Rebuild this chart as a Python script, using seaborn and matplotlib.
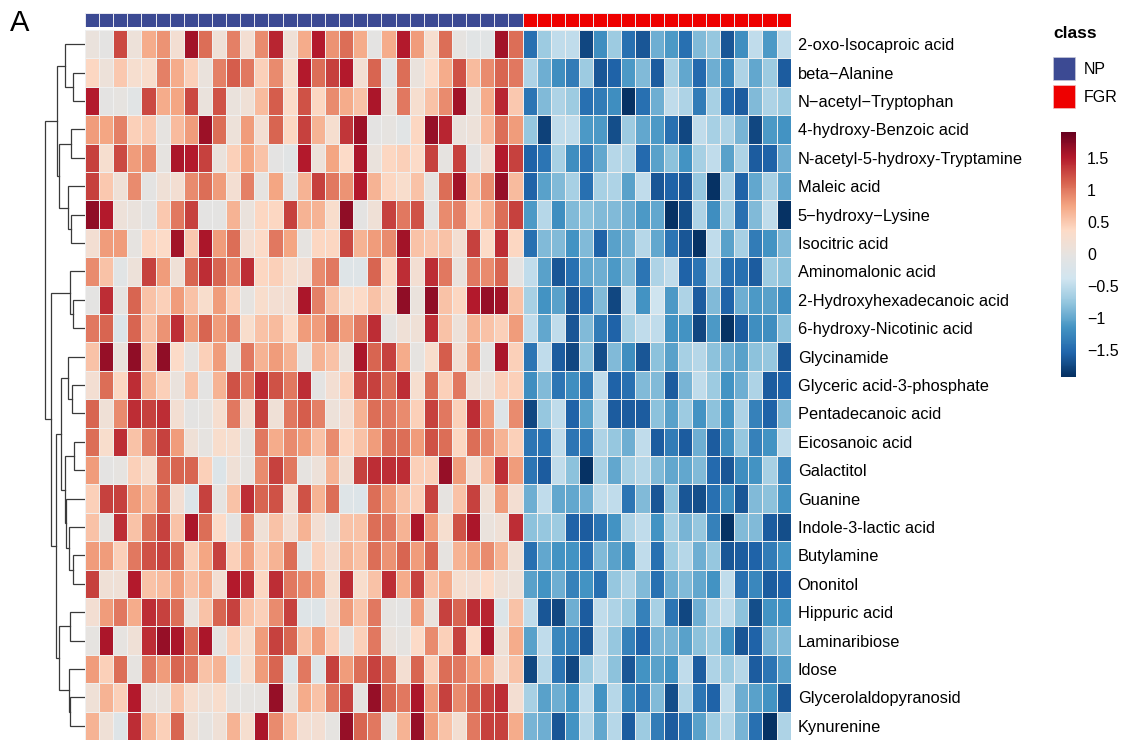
import numpy as np
import pandas as pd
import matplotlib
matplotlib.use("Agg")
import matplotlib.pyplot as plt
import seaborn as sns
from matplotlib.colors import LinearSegmentedColormap, ListedColormap
from matplotlib.patches import Patch

# ---------------- data ----------------
metabolites = [
    "2-oxo-Isocaproic acid", "beta\u2212Alanine", "N\u2212acetyl\u2212Tryptophan",
    "4-hydroxy-Benzoic acid", "N-acetyl-5-hydroxy-Tryptamine", "Maleic acid",
    "5\u2212hydroxy\u2212Lysine", "Isocitric acid", "Aminomalonic acid",
    "2-Hydroxyhexadecanoic acid", "6-hydroxy-Nicotinic acid", "Glycinamide",
    "Glyceric acid-3-phosphate", "Pentadecanoic acid", "Eicosanoic acid",
    "Galactitol", "Guanine", "Indole-3-lactic acid", "Butylamine", "Ononitol",
    "Hippuric acid", "Laminaribiose", "Idose", "Glycerolaldopyranosid", "Kynurenine",
]
n_np = 31
n_fgr = 19
class_names = ["NP", "FGR"]

r00 = [0.05,-0.05,1.25,0.1,0.7,0.85,0.2,1.6,1.05,0.15,0.95,0.2,0.9,1.45,0.15,0.7,1.5,0.85,1.05,0.7,-0.05,0.7,1.5,0.8,0.25,1.05,0.0,-0.1,-0.1,1.6,1.05,
       -1.45,-0.7,-0.5,-0.5,-1.75,-1.2,-0.7,-1.45,-1.65,-0.95,-1.1,-1.45,-0.85,-0.75,-1.65,-1.2,-0.5,-1.1,-0.5]
r01 = [0.4,0.1,0.5,0.25,0.3,0.95,0.7,0.45,0.05,0.95,1.15,1.0,0.45,0.9,0.3,1.5,1.05,1.3,1.5,0.2,1.1,-0.1,1.05,0.05,0.35,0.7,1.2,0.6,0.9,1.1,1.0,
       -0.6,-0.95,-1.2,-1.35,-0.7,-1.65,-1.55,-1.1,-0.85,-1.6,-0.65,-1.0,-1.5,-0.95,-1.25,-0.6,-1.0,-0.7,-1.6]
r02 = [1.5,-0.05,0.0,-0.1,1.25,0.7,0.75,1.25,0.05,1.2,0.05,0.15,0.6,1.15,0.35,1.2,0.4,0.9,0.7,0.55,1.55,0.05,1.0,0.25,0.55,0.9,1.6,0.05,0.7,1.45,0.5,
       -1.4,-0.85,-0.6,-0.7,-1.45,-1.35,-1.2,-1.9,-1.45,-0.95,-0.5,-0.6,-1.35,-0.65,-1.5,-1.6,-0.85,-0.6,-0.7]
r03 = [0.8,0.75,0.95,0.45,0.5,0.0,0.6,0.8,1.62,1.05,0.1,0.8,0.2,1.1,0.4,1.3,0.65,0.25,1.35,1.62,-0.05,0.0,-0.1,0.4,1.65,1.45,0.05,0.1,0.6,1.05,0.8,
       -0.75,-1.8,-0.5,-0.5,-1.1,-1.1,-1.7,-0.7,-1.0,-1.1,-1.45,-1.75,-0.5,-0.65,-0.6,-0.9,-1.75,-1.1,-1.15]
r04 = [1.3,0.25,1.25,0.8,0.9,0.0,1.55,1.5,1.3,0.05,0.45,0.75,0.55,-0.05,-0.1,1.5,0.1,0.75,0.35,1.55,0.05,0.4,0.45,0.35,1.3,0.0,1.3,-0.05,0.2,1.5,1.3,
       -1.55,-1.4,-0.65,-1.2,-1.4,-1.0,-0.55,-0.6,-1.5,-1.05,-0.8,-1.15,-0.65,-0.5,-1.05,-0.6,-1.6,-1.55,-0.95]
r05 = [1.3,0.5,0.15,0.9,-0.05,0.15,0.2,0.9,1.05,0.8,0.2,0.95,0.0,0.75,-0.05,0.65,1.3,1.0,0.85,1.5,0.65,0.4,0.3,0.55,0.0,1.05,1.6,0.55,0.9,1.65,0.6,
       -1.55,-1.05,-0.85,-0.65,-1.45,-0.65,-0.6,-1.05,-0.5,-1.65,-1.55,-1.65,-0.75,-1.9,-0.6,-1.55,-1.0,-0.65,-1.0]
r06 = [1.68,1.5,0.1,0.05,-0.05,0.5,1.0,1.3,-0.05,-0.05,0.65,0.05,0.4,0.4,1.3,0.65,0.65,0.3,1.68,-0.05,0.15,1.3,1.0,1.2,-0.05,0.9,0.95,0.4,0.65,1.05,1.3,
       -1.1,-0.55,-1.2,-0.85,-0.8,-0.85,-0.85,-0.95,-1.1,-1.0,-1.9,-1.7,-0.6,-1.2,-0.65,-1.45,-0.85,-0.5,-1.9]
r07 = [0.2,0.8,0.8,0.0,0.4,0.35,1.6,0.5,1.55,0.8,1.05,0.2,0.35,1.0,0.75,0.0,0.4,0.4,1.25,0.65,0.8,0.9,1.6,0.55,0.5,0.55,0.2,1.3,0.35,1.4,0.4,
       -1.45,-0.85,-0.85,-1.15,-0.85,-1.55,-1.05,-0.95,-0.55,-1.0,-1.4,-1.65,-1.9,-0.5,-1.05,-0.65,-1.35,-1.15,-0.85]
r08 = [0.9,0.55,-0.1,0.1,1.3,0.8,0.15,1.1,1.4,1.1,0.9,1.4,0.4,0.45,0.25,0.2,0.9,1.0,-0.15,-0.15,1.1,0.4,1.4,0.2,1.4,1.0,0.05,1.0,0.9,1.1,-0.05,
       -0.5,-1.05,-1.65,-1.45,-1.0,-0.95,-1.1,-0.85,-1.4,-0.6,-0.5,-1.55,-1.4,-0.6,-1.45,-1.45,-1.6,-0.7,-0.8]
r09 = [-0.05,1.4,0.0,1.1,0.55,0.45,0.8,0.55,0.3,0.8,0.45,0.0,0.3,0.2,0.2,1.55,0.95,0.55,0.3,0.35,0.55,0.3,1.68,0.05,1.68,0.55,0.4,1.5,1.65,1.6,0.55,
       -0.65,-1.15,-1.05,-1.65,-1.45,-0.85,-1.75,-0.5,-1.15,-0.4,-1.1,-0.6,-1.6,-0.85,-1.55,-0.95,-1.1,-1.05,-1.2]
r10 = [1.0,1.1,-0.2,1.1,0.55,0.85,1.4,0.8,1.1,0.8,0.95,0.3,0.55,0.6,0.35,0.8,0.8,1.05,0.8,1.0,1.4,0.0,0.15,0.15,1.4,0.55,0.1,0.65,0.55,0.45,0.8,
       -0.5,-1.0,-0.5,-1.65,-0.85,-1.35,-1.55,-0.65,-0.5,-0.5,-1.15,-1.15,-1.75,-1.1,-1.9,-1.6,-1.2,-1.2,-0.8]
r11 = [0.55,1.65,0.05,1.68,0.55,1.68,0.35,0.0,0.45,0.8,0.0,1.0,0.65,0.8,0.65,0.0,0.65,0.55,0.05,1.55,1.1,1.3,0.7,0.0,0.3,1.15,0.2,0.8,-0.05,1.55,0.45,
       -1.4,-0.5,-1.6,-1.75,-0.8,-1.7,-0.85,-1.2,-1.65,-0.8,-1.05,-0.65,-0.55,-0.8,-0.95,-1.05,-0.8,-0.75,-1.65]
r12 = [0.2,1.05,0.4,1.4,0.65,0.45,0.05,0.55,-0.05,0.65,1.2,1.0,1.4,1.2,1.0,1.4,-0.05,0.2,0.45,1.3,1.3,1.05,1.4,0.25,1.05,0.45,1.0,0.15,0.1,0.45,0.45,
       -1.2,-0.85,-1.4,-1.2,-1.35,-0.5,-1.55,-1.45,-0.85,-0.85,-1.6,-0.9,-0.5,-0.7,-1.15,-0.95,-0.6,-1.6,-1.55]
r13 = [1.1,0.15,0.9,1.4,1.3,1.4,0.2,-0.05,0.0,0.25,1.0,0.2,1.3,0.15,1.0,1.15,0.95,0.1,0.2,0.65,1.05,1.0,0.9,0.45,1.3,1.0,0.45,1.4,0.8,-0.15,0.9,
       -1.75,-0.75,-0.5,-1.55,-1.05,-0.5,-1.6,-1.6,-1.6,-0.8,-1.05,-0.7,-1.15,-0.8,-1.15,-0.6,-1.3,-1.55,-0.85]
r14 = [1.05,0.3,1.4,0.55,1.0,1.3,0.8,0.15,0.0,0.3,0.25,0.0,1.0,0.7,0.9,0.8,0.55,0.9,0.4,0.55,0.8,1.05,1.05,0.8,1.2,1.05,0.4,1.05,0.9,0.65,0.45,
       -1.4,-1.4,-0.5,-1.4,-1.35,-0.6,-0.75,-0.95,-0.5,-1.6,-1.35,-1.6,-0.95,-1.6,-1.2,-0.75,-1.3,-1.15,-0.5]
r15 = [0.8,-0.05,0.0,0.45,0.25,1.1,1.1,1.1,0.45,-0.2,0.15,0.0,0.9,1.3,1.0,0.0,0.1,0.65,0.15,1.3,1.4,1.4,1.4,0.45,0.45,1.65,0.8,0.2,0.65,1.4,0.8,
       -1.4,-1.6,-0.5,-0.8,-1.9,-0.65,-1.0,-0.65,-0.55,-0.85,-1.0,-1.0,-0.85,-1.5,-1.65,-1.2,-1.15,-0.65,-1.25]
r16 = [0.45,1.3,1.3,0.8,0.65,1.1,0.2,-0.2,1.3,0.0,0.55,1.4,1.1,1.2,0.2,1.2,0.65,1.05,-0.15,-0.2,1.05,0.8,0.55,0.45,1.3,0.0,0.55,1.3,0.15,0.8,0.2,
       -0.95,-0.5,-1.0,-1.0,-0.95,-0.5,-0.5,-1.4,-0.85,-1.65,-0.8,-1.65,-1.7,-1.45,-1.2,-1.65,-0.85,-0.8,-1.15]
r17 = [0.55,0.0,1.4,0.55,1.05,1.3,0.55,1.55,1.05,0.35,-0.05,0.9,0.15,0.55,0.2,0.65,0.2,-0.05,0.55,0.55,1.05,1.0,0.65,1.55,0.8,0.25,1.2,1.55,0.05,0.15,1.4,
       -0.8,-0.75,-0.7,-1.55,-1.6,-1.4,-1.15,-0.6,-0.5,-1.15,-0.65,-0.9,-0.75,-1.3,-1.9,-0.85,-0.85,-1.6,-1.7]
r18 = [0.8,0.8,0.45,1.0,1.2,1.3,1.05,0.45,0.75,1.3,0.45,0.8,0.45,0.65,1.05,-0.1,0.45,0.2,0.65,0.55,1.05,0.85,1.1,0.8,1.1,0.0,0.65,0.8,0.9,0.65,0.15,
       -1.45,-1.0,-1.15,-1.15,-1.45,-0.85,-1.05,-1.2,-0.5,-1.45,-0.7,-0.55,-0.95,-0.75,-1.65,-1.6,-1.55,-1.35,-1.15]
r19 = [1.3,0.15,0.15,1.5,0.55,0.6,0.8,0.55,0.7,0.2,1.5,1.4,0.4,1.4,1.0,0.9,0.8,0.25,1.4,0.3,0.55,1.4,0.7,1.3,0.55,0.7,0.25,0.2,0.35,0.15,0.1,
       -1.05,-1.15,-0.95,-1.3,-1.15,-1.45,-0.75,-0.6,-0.85,-1.45,-0.95,-0.85,-1.0,-1.15,-0.5,-1.45,-1.25,-1.6,-1.55]
r20 = [0.2,0.8,1.0,0.7,1.4,1.3,1.05,0.05,0.55,1.1,1.3,0.55,0.45,0.9,1.3,-0.15,-0.15,0.2,0.8,0.55,1.0,0.0,-0.05,0.8,0.05,1.3,1.1,1.4,1.45,-0.2,0.55,
       -0.5,-1.65,-1.75,-0.95,-1.6,-0.5,-0.6,-0.75,-1.3,-0.65,-1.4,-1.75,-0.95,-0.6,-0.5,-0.8,-1.7,-1.15,-1.15]
r21 = [0.0,1.55,0.0,0.15,1.4,1.65,1.55,1.05,1.55,0.0,0.45,0.25,0.8,1.3,1.1,0.55,0.8,0.45,-0.05,0.45,1.0,0.05,0.0,0.35,0.9,0.45,1.3,0.35,1.55,0.15,0.7,
       -1.05,-0.5,-1.25,-1.3,-1.65,-0.5,-0.75,-1.3,-1.55,-0.9,-0.9,-1.05,-0.8,-0.7,-1.15,-1.65,-1.55,-0.9,-0.85]
r22 = [0.8,0.45,1.05,0.0,1.0,0.8,1.1,1.0,0.55,0.65,-0.2,0.25,0.8,1.1,-0.2,1.0,-0.15,1.3,0.8,1.05,1.3,1.05,0.2,1.1,0.45,1.05,1.0,0.8,0.7,0.2,0.55,
       -1.75,-0.55,-1.4,-1.75,-0.7,-0.5,-0.8,-1.65,-1.15,-1.05,-1.15,-0.5,-1.6,-0.6,-0.7,-0.55,-1.6,-1.4,-1.05]
r23 = [0.15,0.65,0.45,1.5,0.05,0.05,0.55,0.25,0.15,0.3,0.0,0.0,0.0,1.65,0.05,0.7,0.55,1.0,1.3,0.0,1.65,1.1,1.0,1.55,0.8,1.3,0.9,1.1,1.3,1.4,0.2,
       -0.65,-1.05,-0.95,-1.15,-0.5,-1.15,-0.55,-1.25,-1.4,-0.85,-1.7,-0.6,-1.4,-1.55,-0.5,-0.95,-1.05,-1.15,-1.65]
r24 = [0.65,0.15,-0.15,1.4,0.65,0.45,1.1,0.15,0.0,0.15,0.65,0.25,1.55,0.9,0.55,0.2,0.2,0.0,1.65,1.1,1.0,0.0,0.65,1.65,0.8,0.55,0.2,1.0,1.3,1.3,0.7,
       -0.9,-0.95,-1.65,-1.15,-0.55,-1.0,-0.55,-1.6,-0.7,-1.35,-1.6,-1.4,-1.05,-0.7,-0.55,-0.9,-1.45,-1.9,-0.6]

rows = [r00, r01, r02, r03, r04, r05, r06, r07, r08, r09, r10, r11, r12,
        r13, r14, r15, r16, r17, r18, r19, r20, r21, r22, r23, r24]

# row dendrogram: (child_a, child_b, merge height); leaves 0..24, new nodes from 25
dendro_merges = [
    (1, 2, 12.3), (0, 25, 20.0), (3, 4, 14.0), (6, 7, 14.0), (5, 28, 16.7),
    (27, 29, 25.7), (26, 30, 27.7), (9, 10, 11.7), (8, 32, 15.0), (12, 13, 12.7),
    (11, 34, 17.0), (14, 15, 11.0), (18, 19, 11.7), (17, 37, 16.0), (16, 38, 19.3),
    (36, 39, 20.3), (35, 40, 23.7), (20, 21, 14.7), (23, 24, 14.7), (22, 43, 16.0),
    (42, 44, 26.3), (41, 45, 28.7), (33, 46, 33.7), (31, 47, 39.7),
]

# ---------------- style ----------------
np_color = "#3C4A93"
fgr_color = "#EE0000"
cmap = LinearSegmentedColormap.from_list(
    "rdbu_grey",
    ["#053061", "#2166AC", "#4393C3", "#92C5DE", "#D1E5F0", "#E6E3E1",
     "#FDDBC7", "#F4A582", "#D6604D", "#B2182B", "#67001F"])

plt.rcParams["font.family"] = ["Liberation Sans", "DejaVu Sans"]

W, H = 1126, 740
fig = plt.figure(figsize=(W / 100, H / 100), dpi=100)

ax_heat = fig.add_axes([85 / W, 0 / H, 705.7 / W, 710 / H])
ax_bar = fig.add_axes([85 / W, (H - 27) / H, 705.7 / W, 14 / H])
ax_den = fig.add_axes([40 / W, 0 / H, 45 / W, 710 / H])
ax_cb = fig.add_axes([1061 / W, (H - 377) / H, 15 / W, 245 / H])

col_ids = [f"S{i+1}" for i in range(n_np + n_fgr)]
df = pd.DataFrame(rows, index=metabolites, columns=col_ids)

sns.heatmap(df, ax=ax_heat, cmap=cmap, vmin=-1.92, vmax=1.9,
            linewidths=0.5, linecolor="#EFEFEF", xticklabels=False,
            yticklabels=True, cbar_ax=ax_cb,
            cbar_kws={"ticks": [-1.5, -1, -0.5, 0, 0.5, 1, 1.5]})
ax_heat.yaxis.tick_right()
ax_heat.tick_params(axis="y", length=0, pad=5, labelsize=11.8, labelrotation=0)
ax_heat.set_xlabel("")
ax_heat.set_ylabel("")

# class annotation bar
class_codes = [class_names.index(c) for c in ["NP"] * n_np + ["FGR"] * n_fgr]
sns.heatmap(pd.DataFrame([class_codes], columns=col_ids), ax=ax_bar,
            cmap=ListedColormap([np_color, fgr_color]), vmin=0, vmax=1,
            cbar=False, linewidths=0.5, linecolor="#E8E8F0",
            xticklabels=False, yticklabels=False)

# colorbar
cbar = ax_heat.collections[0].colorbar
cbar.outline.set_visible(False)
cbar.ax.tick_params(length=0, pad=8, labelsize=11.5)
cbar.set_ticklabels(["\u22121.5", "\u22121", "\u22120.5", "0", "0.5", "1", "1.5"])

# dendrogram drawing from merge list
pos = {i: (i + 0.5, 0.0) for i in range(len(metabolites))}
nid = len(metabolites)
for a, b, h in dendro_merges:
    ya, ha = pos[a]
    yb, hb = pos[b]
    ax_den.plot([ha, h, h, hb], [ya, ya, yb, yb], color="#3A3A3A", lw=0.9,
                solid_joinstyle="miter")
    pos[nid] = ((ya + yb) / 2, h)
    nid += 1
ax_den.set_xlim(45, 0)
ax_den.set_ylim(len(metabolites), 0)
ax_den.axis("off")

# legend
fig.text(1053 / W, 1 - 38 / H, "class", fontsize=12.5, fontweight="bold",
         ha="left", va="baseline")
handles = [Patch(facecolor=np_color, edgecolor="#C8C8D8", lw=0.5),
           Patch(facecolor=fgr_color, edgecolor="#F0C0C0", lw=0.5)]
leg = fig.legend(handles, class_names, loc="upper left",
                 bbox_to_anchor=(1053 / W, 1 - 57 / H), frameon=False,
                 fontsize=11.5, handlelength=1.38, handleheight=1.84,
                 handletextpad=0.55, labelspacing=0.31, borderpad=0,
                 borderaxespad=0)

fig.text(10 / W, 1 - 9 / H, "A", fontsize=21, ha="left", va="top")

fig.savefig("out.png", dpi=100)
